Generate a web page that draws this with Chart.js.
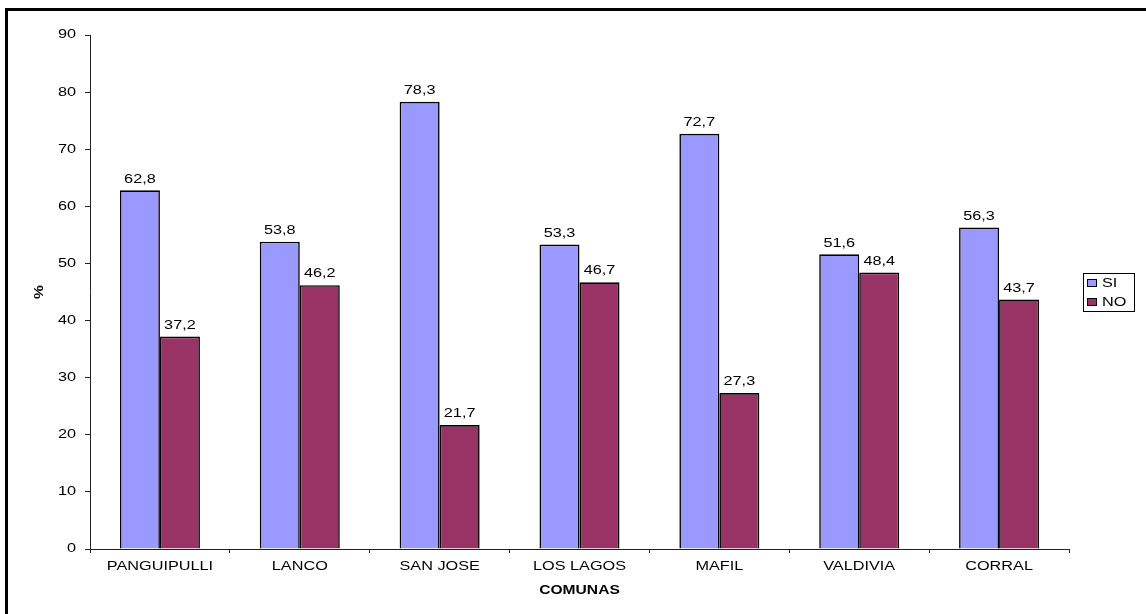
<!DOCTYPE html>
<html>
<head>
<meta charset="utf-8">
<script src="https://cdn.jsdelivr.net/npm/chart.js@4/dist/chart.umd.min.js"></script>
<style>
  html, body { margin: 0; padding: 0; background: #fff; }
  canvas { display: block; }
</style>
</head>
<body>
<canvas id="chart" width="1146" height="614"></canvas>
<script>
const comunas = ['PANGUIPULLI', 'LANCO', 'SAN JOSE', 'LOS LAGOS', 'MAFIL', 'VALDIVIA', 'CORRAL'];
const si = [62.8, 53.8, 78.3, 53.3, 72.7, 51.6, 56.3];
const no = [37.2, 46.2, 21.7, 46.7, 27.3, 48.4, 43.7];
const yTicks = [0, 10, 20, 30, 40, 50, 60, 70, 80, 90];

const FONT = "'Liberation Sans', Arial, sans-serif";
const STRETCH = 1.3; // the source text is drawn wide

// widen every piece of text the same way the original was
const wideText = {
  id: 'wideText',
  beforeInit(chart) {
    const ctx = chart.ctx;
    const orig = ctx.fillText.bind(ctx);
    ctx.fillText = (t, x, y) => {
      ctx.save();
      ctx.translate(x, y);
      ctx.scale(STRETCH, 1);
      orig(t, 0, 0);
      ctx.restore();
    };
  }
};

const frame = {
  id: 'frame',
  afterDraw(chart) {
    const ctx = chart.ctx;
    ctx.save();
    ctx.fillStyle = '#000';
    ctx.fillRect(5, 8, 3, 606);
    ctx.fillRect(5, 8, 1141, 3);
    ctx.restore();
  }
};

const valueLabels = {
  id: 'valueLabels',
  afterDatasetsDraw(chart) {
    const ctx = chart.ctx;
    ctx.save();
    ctx.font = '12.5px ' + FONT;
    ctx.fillStyle = '#000';
    ctx.textAlign = 'center';
    ctx.textBaseline = 'bottom';
    chart.data.datasets.forEach((ds, i) => {
      chart.getDatasetMeta(i).data.forEach((bar, j) => {
        ctx.fillText(ds.data[j].toFixed(1).replace('.', ','), bar.x, bar.y - 5);
      });
    });
    ctx.restore();
  }
};

const boxLegend = {
  id: 'boxLegend',
  afterDraw(chart) {
    const ctx = chart.ctx;
    const x = 1083, y = 273, w = 51, h = 38;
    ctx.save();
    ctx.strokeStyle = '#000';
    ctx.lineWidth = 1;
    ctx.strokeRect(x + 0.5, y + 0.5, w, h);
    ctx.font = '12.5px ' + FONT;
    ctx.textBaseline = 'middle';
    ctx.textAlign = 'left';
    chart.data.datasets.forEach((ds, i) => {
      const cy = y + 10 + i * 19;
      ctx.fillStyle = ds.backgroundColor;
      ctx.fillRect(x + 4, cy - 4, 10, 8);
      ctx.strokeRect(x + 4.5, cy - 3.5, 9, 7);
      ctx.fillStyle = '#000';
      ctx.fillText(ds.label, x + 19, cy + 1);
    });
    ctx.restore();
  }
};

new Chart(document.getElementById('chart'), {
  type: 'bar',
  data: {
    labels: comunas,
    datasets: [
      { label: 'SI', data: si, backgroundColor: '#9999FF', borderColor: '#000', borderWidth: 1.6 },
      { label: 'NO', data: no, backgroundColor: '#993366', borderColor: '#000', borderWidth: 1.6 }
    ]
  },
  options: {
    responsive: false,
    animation: false,
    layout: { padding: { left: 0, top: 35, right: 77, bottom: 0 } },
    datasets: { bar: { categoryPercentage: 0.572, barPercentage: 1.0 } },
    plugins: {
      legend: { display: false },
      tooltip: { enabled: false }
    },
    scales: {
      x: {
        afterFit: s => { s.height = 65; },
        grid: { drawOnChartArea: false, drawTicks: true, tickLength: 4, color: '#222', offset: true },
        border: { display: true, color: '#222' },
        ticks: { color: '#000', font: { family: FONT, size: 12.5 }, padding: 6, maxRotation: 0, autoSkip: false },
        title: { display: true, text: 'COMUNAS', color: '#000', font: { family: FONT, size: 12, weight: 'bold' }, padding: { bottom: 16 } }
      },
      y: {
        min: 0,
        max: 90,
        afterFit: s => { s.width = 90; },
        afterBuildTicks: s => { s.ticks = yTicks.map(v => ({ value: v })); },
        grid: { drawOnChartArea: false, drawTicks: true, tickLength: 5, color: '#222' },
        border: { display: true, color: '#222' },
        ticks: { color: '#000', font: { family: FONT, size: 12.5 }, padding: 9 },
        title: { display: true, text: '%', color: '#000', font: { family: FONT, size: 12, weight: 'bold' }, padding: { top: 32 } }
      }
    }
  },
  plugins: [wideText, frame, valueLabels, boxLegend]
});
</script>
</body>
</html>
